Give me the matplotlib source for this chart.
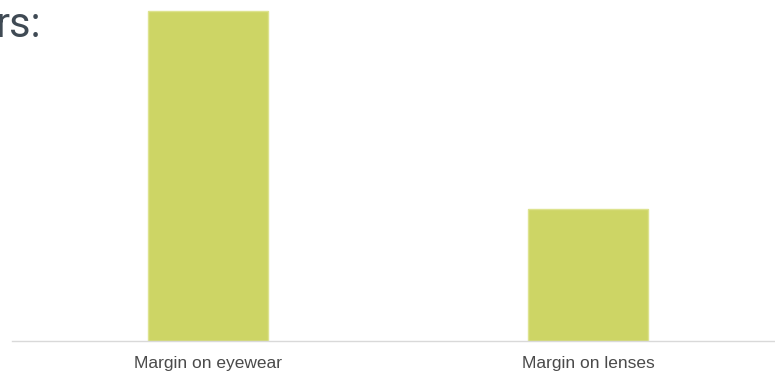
import numpy as np
import matplotlib.pyplot as plt

categories = ["Margin on eyewear", "Margin on lenses"]
values = [100, 40]

fig = plt.figure(figsize=(7.75, 3.73), dpi=100)
ax = fig.add_axes([12/775, 32/373, 1 - 12/775, 341/373])

x = np.arange(len(categories))
ax.bar(x, values, width=0.316, color="#cdd565", edgecolor="#dde38f", linewidth=1)

ax.set_xlim(-0.516, 1.492)
ax.set_ylim(0, values[0] * 341 / 330)
ax.set_xticks(x)
ax.set_xticklabels(categories, fontsize=12.5, color="#4a4a4a", family="Liberation Sans")
ax.tick_params(axis="x", length=0, pad=11)
ax.set_yticks([])
for s in ["top", "left", "right"]:
    ax.spines[s].set_visible(False)
ax.spines["bottom"].set_color("#d9d9d9")
ax.spines["bottom"].set_linewidth(1)

# titolo tagliato a sinistra
fig.text(41/775, 1 - 37/373, "rs:", fontsize=30, color="#3f4a54", family="Roboto",
         fontweight="normal", ha="right", va="baseline")

fig.savefig("out.png", dpi=100)
